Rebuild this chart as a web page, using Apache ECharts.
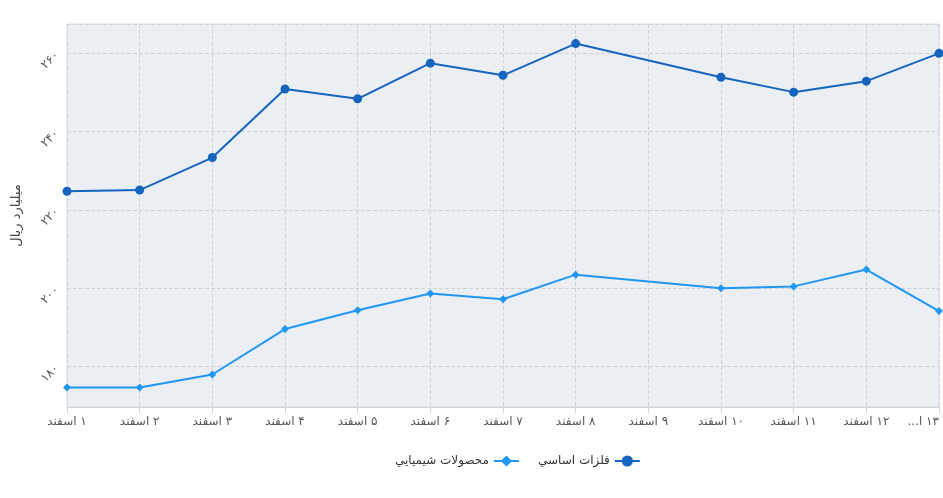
<!DOCTYPE html>
<html dir="rtl">
<head>
<meta charset="utf-8">
<script src="https://cdn.jsdelivr.net/npm/echarts@6/dist/echarts.min.js"></script>
<style>
  html, body { margin: 0; padding: 0; background: #fff; }
  #chart { width: 943px; height: 498px; }
</style>
</head>
<body>
<div id="chart"></div>
<script>
var days = ['۱ اسفند', '۲ اسفند', '۳ اسفند', '۴ اسفند', '۵ اسفند', '۶ اسفند', '۷ اسفند',
            '۸ اسفند', '۹ اسفند', '۱۰ اسفند', '۱۱ اسفند', '۱۲ اسفند', '۱۳ اسفند'];
var metals = [224.8, 225.1, 233.4, 250.9, 248.4, 257.5, 254.4, 262.5, null, 253.9, 250.1, 252.9, 260.0];
var chemicals = [174.7, 174.7, 178.0, 189.6, 194.4, 198.7, 197.2, 203.5, null, 200.0, 200.5, 204.8, 194.2];

var faFont = 'DejaVu Sans';

function toFa(v) {
  return String(v).replace(/[0-9]/g, function (d) { return '۰۱۲۳۴۵۶۷۸۹'[d]; });
}

// last label runs off the right edge, so it gets cut like in the original
var dayItems = days.map(function (d, i) {
  if (i === days.length - 1) {
    return { value: d, textStyle: { align: 'right', width: 42, overflow: 'truncate' } };
  }
  return d;
});

var chart = echarts.init(document.getElementById('chart'));
var option = {
  textStyle: { fontFamily: faFont },
  grid: {
    left: 67, right: 4, top: 24, bottom: 91,
    outerBoundsMode: 'none',
    show: true,
    backgroundColor: '#ebeff3',
    borderColor: '#dde1e5'
  },
  legend: {
    bottom: 26,
    left: 390,
    align: 'right',
    itemGap: 18,
    data: ['محصولات شيميايي', 'فلزات اساسي'],
    textStyle: { color: '#333', fontSize: 12, fontFamily: faFont }
  },
  xAxis: {
    type: 'category',
    data: dayItems,
    boundaryGap: false,
    axisLine: { lineStyle: { color: '#cfd3d8' } },
    axisTick: { show: true, length: 6, lineStyle: { color: '#cfd3d8' } },
    axisLabel: { color: '#555', fontSize: 12, fontFamily: faFont, margin: 9 },
    splitLine: { show: true, lineStyle: { type: 'dashed', color: '#cfd3d8' } }
  },
  yAxis: {
    type: 'value',
    min: function (v) { return v.min - 5; },
    max: function (v) { return v.max + 5; },
    name: 'میلیارد ریال',
    nameLocation: 'middle',
    nameGap: 44,
    nameTextStyle: { color: '#444', fontSize: 13, fontFamily: faFont },
    axisLine: { show: false },
    axisTick: { show: false },
    axisLabel: {
      rotate: 45,
      color: '#555',
      fontSize: 12,
      margin: 10,
      showMinLabel: false,
      showMaxLabel: false,
      formatter: function (v) { return toFa(v); }
    },
    splitLine: { show: true, lineStyle: { type: 'dashed', color: '#cfd3d8' } }
  },
  series: [
    {
      name: 'فلزات اساسي',
      type: 'line',
      data: metals,
      connectNulls: true,
      symbol: 'circle',
      symbolSize: 9,
      color: '#1565c0',
      lineStyle: { width: 2 }
    },
    {
      name: 'محصولات شيميايي',
      type: 'line',
      data: chemicals,
      connectNulls: true,
      symbol: 'diamond',
      symbolSize: 8,
      color: '#2196f3',
      lineStyle: { width: 2 }
    }
  ]
};
chart.setOption(option);
</script>
</body>
</html>
